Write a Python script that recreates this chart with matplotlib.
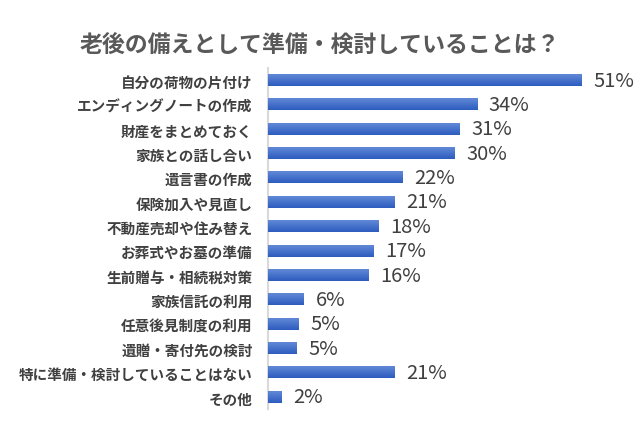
import matplotlib
matplotlib.use("Agg")
import matplotlib.pyplot as plt
import numpy as np
from matplotlib.colors import LinearSegmentedColormap

plt.rcParams['font.family'] = ['Noto Sans CJK JP', 'DejaVu Sans']

title = "老後の備えとして準備・検討していることは？"
categories = ["自分の荷物の片付け", "エンディングノートの作成", "財産をまとめておく",
              "家族との話し合い", "遺言書の作成", "保険加入や見直し", "不動産売却や住み替え",
              "お葬式やお墓の準備", "生前贈与・相続税対策", "家族信託の利用",
              "任意後見制度の利用", "遺贈・寄付先の検討", "特に準備・検討していることはない", "その他"]
values = [51.0, 34.0, 31.2, 30.4, 21.8, 20.6, 17.9, 17.1, 16.3, 5.85, 5.0, 4.7, 20.6, 2.2]
labels = ["51%", "34%", "31%", "30%", "22%", "21%", "18%", "17%", "16%", "6%", "5%", "5%", "21%", "2%"]

fig = plt.figure(figsize=(6.4, 4.27), dpi=100)
ax = fig.add_axes([268/640, 17/427, 369/640, 341/427])

n = len(categories)
y = np.arange(n)
bar_h = 0.48
cmap = LinearSegmentedColormap.from_list("g", ["#2d5cbe", "#6289d8"])
bars = ax.barh(y, values, height=bar_h, color="#4472c4", zorder=2)
grad = np.linspace(1, 0, 64).reshape(-1, 1)
for b in bars:
    x0, y0 = b.get_x(), b.get_y()
    w, h = b.get_width(), b.get_height()
    ax.imshow(grad, extent=[x0, x0 + w, y0 + h, y0], cmap=cmap, vmin=0, vmax=1,
              aspect='auto', origin='upper', zorder=3, interpolation='bicubic')

ax.set_xlim(0, 60)
ax.set_ylim(n - 0.5, -0.5)
ax.set_aspect('auto')

for yi, v, lab in zip(y, values, labels):
    ax.annotate(lab, (v, yi), xytext=(8.5, 0), textcoords='offset points',
                ha='left', va='center', fontsize=14.5, color='#404040')

ax.set_yticks(y)
ax.set_yticklabels(categories, fontsize=10.5, fontweight='bold', color='#404040')
ax.tick_params(axis='y', length=0, pad=11)
ax.set_xticks([])
for s in ['top', 'right', 'bottom']:
    ax.spines[s].set_visible(False)
ax.spines['left'].set_color('#d9d9d9')
ax.spines['left'].set_linewidth(1.5)

fig.text(0.5, 1 - 45/427, title, ha='center', va='center', fontsize=16.5,
         fontweight='bold', color='#595959')

fig.savefig("out.png", dpi=100)
